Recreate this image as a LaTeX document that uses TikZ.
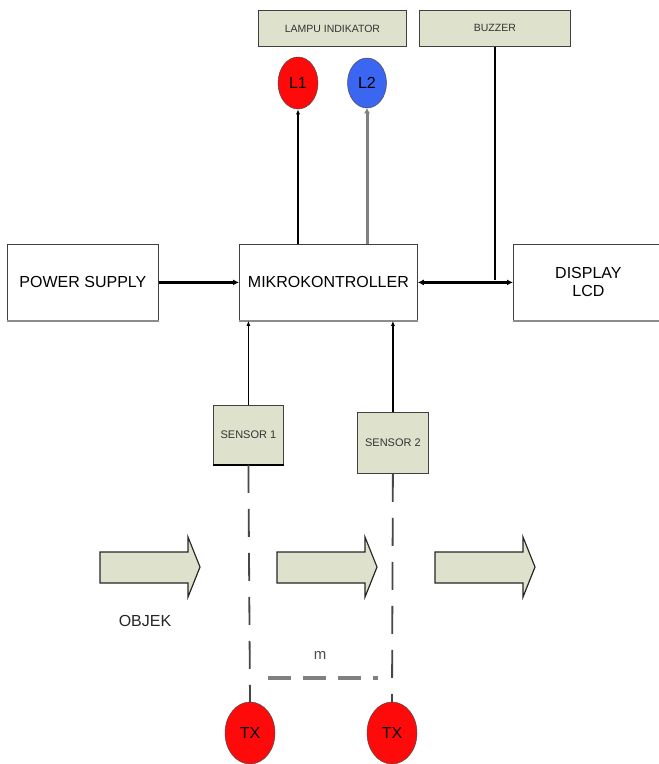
\documentclass[tikz,border=0pt]{standalone}
\usepackage{fontspec}
\setmainfont{Liberation Sans}
\usetikzlibrary{shapes.geometric,arrows.meta}
\definecolor{sage}{HTML}{DEE2CC}
\definecolor{ledred}{HTML}{FF0A0A}
\definecolor{ledblue}{HTML}{3A66F2}
\tikzset{
  bigbox/.style={draw=black!75, line width=0.8pt, fill=white, inner sep=0pt, anchor=north west,
    font=\fontsize{16}{18}\selectfont, align=center},
  smallbox/.style={draw=black!75, line width=0.8pt, fill=sage, inner sep=0pt, anchor=north west,
    font=\fontsize{10.5}{12}\selectfont, text=black!80},
  led/.style={ellipse, draw=black!70, line width=0.5pt, inner sep=0pt, font=\fontsize{16}{18}\selectfont},
  conn/.style={line width=2.6pt, -{Latex[length=6pt,width=6pt]}},
  thin/.style={line width=1.2pt, -{Latex[length=5pt,width=4pt]}},
  dashv/.style={line width=1.8pt, black!72, dash pattern=on 28pt off 16pt},
  blockarrow/.style={draw=black!85, line width=1.2pt, fill=sage, line join=miter},
}
\begin{document}
\begin{tikzpicture}[x=1pt,y=-1pt]
\useasboundingbox (0,0) rectangle (659,764);
% top boxes
\node[smallbox, minimum width=148pt, minimum height=36pt] (lampu) at (258,10) {LAMPU INDIKATOR};
\node[smallbox, minimum width=151pt, minimum height=36pt] (buzzer) at (419,10) {BUZZER};
% LEDs
\node[led, fill=ledred, minimum width=40pt, minimum height=52pt] (l1) at (298,83) {L1};
\node[led, fill=ledblue, minimum width=39pt, minimum height=50pt] (l2) at (367,83) {L2};
% main boxes
\node[bigbox, minimum width=151pt, minimum height=76pt] (ps) at (7,244) {POWER SUPPLY};
\node[bigbox, minimum width=178pt, minimum height=76pt] (mk) at (239,244) {MIKROKONTROLLER};
\node[bigbox, minimum width=150pt, minimum height=76pt] (lcd) at (513,244) {DISPLAY\\LCD};
\draw[black!45, line width=2pt] (ps.south west) -- (ps.south east);
\draw[black!45, line width=2pt] (mk.south west) -- (mk.south east);
\draw[black!45, line width=2pt] (lcd.south west) -- (lcd.south east);
% sensors
\node[smallbox, minimum width=70pt, minimum height=59pt, font=\fontsize{11}{12}\selectfont] (s1) at (213,405) {SENSOR 1};
\node[smallbox, minimum width=71pt, minimum height=61pt, font=\fontsize{11}{12}\selectfont] (s2) at (357,412) {SENSOR 2};
\draw[black, line width=2pt] (s1.south west) -- (s1.south east);
% TX
\node[led, fill=ledred, minimum width=50pt, minimum height=62pt] (tx1) at (250,733) {TX};
\node[led, fill=ledred, minimum width=50pt, minimum height=62pt] (tx2) at (392,733) {TX};
% coordinates
\coordinate (j) at (495,280);
% connectors
\draw[conn] (ps.east) -- (mk.west);
\draw[line width=2.6pt, {Latex[length=6pt,width=6pt]}-{Latex[length=6pt,width=6pt]}] (mk.east) -- (lcd.west);
\draw[line width=1.5pt] (buzzer.south -| j) -- (j);
\draw[thin] (mk.north -| l1.south) -- (l1.south);
\draw[black!50, line width=3pt, -{Latex[length=5pt,width=6pt]}] (mk.north -| l2.south) -- (l2.south);
\draw[thin] (s1.north) -- (s1.north |- mk.south);
\draw[thin] (s2.north) -- (s2.north |- mk.south);
\draw[dashv] (s1.south) -- (tx1.north);
\draw[dashv] (s2.south) -- (tx2.north);
% block arrows
\foreach \x/\n in {100/a, 277/b, 435/c}{
  \draw[blockarrow] (\x,552) -- (\x+88,552) -- (\x+88,537) -- (\x+100,567) -- (\x+88,597) -- (\x+88,583) -- (\x,583) -- cycle;
}
% labels
\node[font=\fontsize{16}{18}\selectfont, text=black!85] (objek) at (145,621) {OBJEK};
\node[font=\fontsize{15}{17}\selectfont, text=black!70] (m) at (320,655) {m};
\coordinate (ma) at (268,678);
\coordinate (mb) at (378,678);
\draw[black!50, line width=3.5pt, dash pattern=on 23pt off 12pt] (ma) -- (mb);
\end{tikzpicture}
\end{document}
